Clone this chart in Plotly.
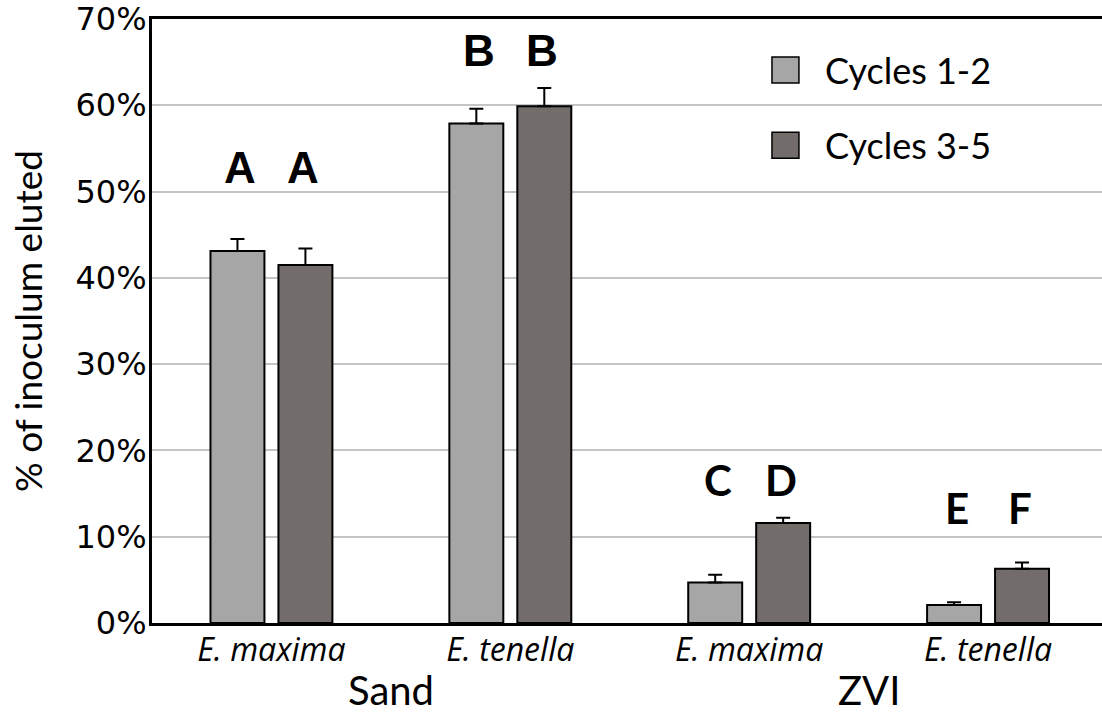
import plotly.graph_objects as go

# Eimeria oocyst elution from sand and zero-valent iron (ZVI) columns
species = ["E. maxima", "E. tenella", "E. maxima", "E. tenella"]
media = ["Sand", "ZVI"]
series_names = ["Cycles 1-2", "Cycles 3-5"]

cycles_12 = [43.1, 57.9, 4.7, 2.1]
cycles_12_err = [1.4, 1.7, 0.9, 0.3]
cycles_35 = [41.5, 59.9, 11.6, 6.3]
cycles_35_err = [1.9, 2.1, 0.6, 0.7]

# significance letters: (species index, series index, letter, height in %)
sig_letters = [
    (0, 0, "A", 52.8), (0, 1, "A", 52.8),
    (1, 0, "B", 66.3), (1, 1, "B", 66.3),
    (2, 0, "C", 16.6), (2, 1, "D", 16.6),
    (3, 0, "E", 13.3), (3, 1, "F", 13.3),
]

y_ticks = [0, 10, 20, 30, 40, 50, 60, 70]

light = "#a6a6a6"
dark = "#726c6b"
BARGAP = 0.431
GROUPGAP = 0.206

x = list(range(len(species)))

fig = go.Figure()
for name, vals, errs, col in [
    (series_names[0], cycles_12, cycles_12_err, light),
    (series_names[1], cycles_35, cycles_35_err, dark),
]:
    fig.add_trace(go.Bar(
        x=x, y=vals, name=name,
        marker=dict(color=col, line=dict(color="black", width=2)),
        error_y=dict(type="data", array=errs, arrayminus=[0] * len(errs),
                     symmetric=False, color="black", thickness=2, width=7),
        showlegend=False,
    ))

# letters above bars
slot = (1 - BARGAP) / 2
for ci, si, letter, h in sig_letters:
    xpos = ci + (si - 0.5) * slot
    fam = "Liberation Sans" if letter in "AB" else "Lato"
    fig.add_annotation(x=xpos, y=h, text=f"<b>{letter}</b>", showarrow=False,
                       xref="x", yref="y", yanchor="middle",
                       xshift=3 if si == 0 else -2,
                       font=dict(family=fam, size=44 if letter in "AB" else 42, color="black"))

# media group labels
for gi, m in enumerate(media):
    fig.add_annotation(x=2 * gi + 0.5, y=0, yref="paper", yshift=-41, yanchor="top",
                       text=m, showarrow=False,
                       font=dict(family="Lato", size=40, color="black"))

# legend drawn as swatches with labels
leg_y = [0.9156, 0.791]
for yy, col, name in zip(leg_y, [light, dark], series_names):
    fig.add_shape(type="rect", xref="paper", yref="paper",
                  x0=0.6526, x1=0.681, y0=yy - 0.0215, y1=yy + 0.0215,
                  fillcolor=col, line=dict(color="black", width=1.5))
    fig.add_annotation(xref="paper", yref="paper", x=0.706, y=yy,
                       xanchor="left", yanchor="middle",
                       text=name, showarrow=False,
                       font=dict(family="Lato", size=36, color="black"))

fig.update_layout(
    width=1102, height=719,
    margin=dict(l=152, r=0, t=19, b=96),
    paper_bgcolor="white", plot_bgcolor="white",
    barmode="group", bargap=BARGAP, bargroupgap=GROUPGAP,
    xaxis=dict(
        range=[-0.5, 3.477],
        tickvals=x, ticktext=[f"<i>{s}</i>" for s in species],
        tickfont=dict(family="Open Sans", size=32, color="black"),
        ticklabelstandoff=-3,
        showline=True, linecolor="black", linewidth=3, mirror=True,
        showgrid=False, ticks="", zeroline=False,
    ),
    yaxis=dict(
        range=[0, 70],
        tickvals=y_ticks, ticktext=[f"{v}%" for v in y_ticks],
        tickfont=dict(family="DejaVu Sans", size=32, color="black"),
        ticklabelstandoff=-4,
        showline=True, linecolor="black", linewidth=3,
        showgrid=True, gridcolor="#c4c4c4", gridwidth=2,
        ticks="", zeroline=False,
        title=dict(text="% of inoculum eluted",
                   font=dict(family="Lato", size=37, color="black"),
                   standoff=22),
    ),
)

fig.write_html("out.html")
